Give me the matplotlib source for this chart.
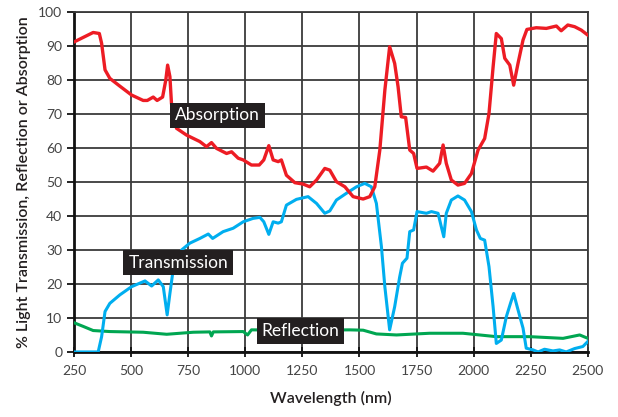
import matplotlib
matplotlib.use("Agg")
import matplotlib.pyplot as plt

plt.rcParams['font.family'] = ['Lato', 'DejaVu Sans']

# Absorption curve
abs_wl = [250, 334, 361, 371, 386, 407, 451, 502, 553, 571, 597, 614, 638, 652, 660,
          670, 677, 699, 743, 801, 830, 852, 874, 918, 940, 969, 991, 1027, 1061, 1081,
          1103, 1122, 1144, 1158, 1180, 1217, 1253, 1282, 1312, 1348, 1370, 1399, 1436,
          1472, 1516, 1545, 1567, 1589, 1611, 1632, 1654, 1669, 1683, 1702, 1720, 1737,
          1752, 1793, 1822, 1851, 1866, 1880, 1902, 1931, 1960, 1990, 2019, 2048, 2067,
          2085, 2099, 2121, 2136, 2158, 2175, 2194, 2216, 2233, 2274, 2318, 2362, 2383,
          2412, 2442, 2471, 2500]
abs_val = [91.2, 94, 93.7, 90.8, 83, 80.5, 78.2, 75.6, 74, 74, 75, 74, 75, 80, 84.4,
           81, 73, 65.8, 63.8, 61.9, 60.4, 61.6, 59.9, 58.4, 58.9, 57, 56.5, 55, 55, 56.5,
           60.7, 56.5, 56, 56.5, 52, 49.8, 49.4, 48.6, 50.6, 54, 53.5, 50.1, 48.6,
           45.7, 45, 45.7, 48.6, 59.4, 77, 89.8, 84.9, 78, 69.2, 69, 59.4, 58.4,
           54, 54.4, 53.2, 55.5, 60.9, 55.5, 50.6, 49.1, 49.6, 52.5, 59.4, 62.8, 70.2,
           83.9, 93.7, 92.2, 86.4, 84.4, 78.5, 84.9, 91.8, 94.9, 95.4, 95.2, 95.9, 94.5,
           96.2, 95.7, 94.7, 93.2]

# Transmission curve
tr_wl = [250, 356, 371, 386, 407, 451, 502, 561, 590, 619, 641, 658, 670, 684, 721,
         757, 801, 838, 857, 903, 947, 991, 1034, 1064, 1081, 1103, 1122, 1144, 1158,
         1180, 1224, 1275, 1312, 1348, 1370, 1399, 1443, 1487, 1523, 1552, 1574, 1596,
         1611, 1632, 1654, 1676, 1688, 1708, 1720, 1737, 1752, 1793, 1815, 1844, 1858,
         1869, 1880, 1902, 1931, 1960, 1990, 2012, 2029, 2048, 2067, 2085, 2099, 2121,
         2143, 2161, 2175, 2194, 2216, 2230, 2260, 2282, 2310, 2347, 2376, 2405, 2442,
         2478, 2500]
tr_val = [0, 0, 4.5, 11.9, 14.3, 16.8, 19.2, 20.9, 19.4, 21.2, 19.2, 10.9, 17.2, 24.1, 30,
          32, 33.4, 34.7, 33.4, 35.4, 36.4, 38.3, 39.3, 39.6, 38.3, 34.6, 38.3, 37.9, 38.3,
          43.2, 44.9, 45.7, 43.7, 40.8, 41.5, 44.7, 46.7, 48.6, 49.6, 48.6, 43.7, 31,
          19.2, 6.5, 13.3, 22.1, 26.1, 27.6, 35.4, 35.9, 41.3, 40.8, 41.3, 40.8, 36.9,
          33.9, 40.8, 44.7, 45.9, 44.7, 41.3, 35.9, 33.4, 32.9, 25.1, 13.3, 2.5, 3.5,
          10.4, 14.3, 17.2, 12.4, 7, 1.1, 0.6, 0, 0.8, 0.3, 0.6, 0, 1,
          1.6, 3.1]

# Reflection curve
ref_wl = [250, 291, 334, 407, 553, 656, 772, 845, 852, 860, 991, 1010, 1027, 1241,
          1457, 1516, 1574, 1662, 1807, 1953, 2099, 2245, 2391, 2464, 2500]
ref_val = [8.6, 7.5, 6.3, 6.0, 5.8, 5.2, 5.8, 5.9, 4.7, 5.9, 6.0, 5.0, 6.5, 6.4,
           6.5, 6.4, 5.3, 5.0, 5.5, 5.5, 4.5, 4.5, 4.0, 5.0, 4.0]

labels = ["Absorption", "Transmission", "Reflection"]
label_pos = [(879, 69.6), (706, 26.3), (1241, 6.2)]

x_ticks = [250, 500, 750, 1000, 1250, 1500, 1750, 2000, 2250, 2500]
y_ticks = [0, 10, 20, 30, 40, 50, 60, 70, 80, 90, 100]

fig = plt.figure(figsize=(6.18, 4.17), dpi=100)
ax = fig.add_axes([0.1197, 0.156, 0.8316, 0.815])

ax.plot(ref_wl, ref_val, color='#00a651', lw=2.2, zorder=3)
ax.plot(tr_wl, tr_val, color='#00aeef', lw=2.2, zorder=3)
ax.plot(abs_wl, abs_val, color='#ed1c24', lw=2.4, zorder=3)

for text, (x, y) in zip(labels, label_pos):
    ax.text(x, y, text, ha='center', va='center', fontsize=12.5, color='white', zorder=5,
            bbox=dict(boxstyle='square,pad=0.28', fc='#231f20', ec='none'))

ax.set_xlim(250, 2500)
ax.set_ylim(0, 100)
ax.set_xticks(x_ticks)
ax.set_yticks(y_ticks)
ax.grid(True, color='#3a3a3a', lw=1.3)
for s in ax.spines.values():
    s.set_color('#3a3a3a')
    s.set_linewidth(1.3)
ax.spines['left'].set_color('#111111')
ax.spines['bottom'].set_color('#111111')
ax.spines['left'].set_linewidth(2)
ax.spines['bottom'].set_linewidth(2)
ax.tick_params(axis='both', colors='#111111', labelcolor='#444444', labelsize=10,
               length=5, width=1.3)
ax.tick_params(axis='x', direction='inout', length=7, pad=6)
ax.tick_params(axis='y', direction='out', length=5)

ax.set_xlabel('Wavelength (nm)', fontsize=11.5, color='#231f20', fontweight='semibold', labelpad=10)
ax.set_ylabel('% Light Transmission, Reflection or Absorption', fontsize=11.5,
              color='#231f20', fontweight='semibold', labelpad=5)

fig.savefig('out.png', dpi=100)
